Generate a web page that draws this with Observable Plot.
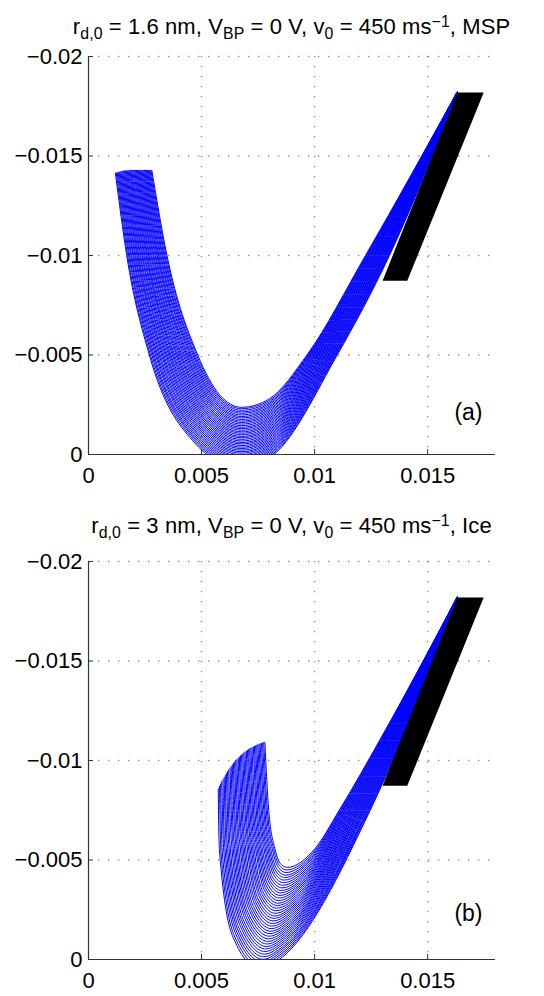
<!DOCTYPE html>
<html><head><meta charset="utf-8">
<script src="https://cdn.jsdelivr.net/npm/d3@7"></script>
<script src="https://cdn.jsdelivr.net/npm/@observablehq/plot@0.6"></script>
<style>
html,body{margin:0;padding:0;background:#fff;overflow:hidden}
#wrap{position:relative;width:544px;height:996px;font-family:"Liberation Sans",Arial,Helvetica,sans-serif}
.ttl{position:absolute;white-space:nowrap;font-size:22px;line-height:22px;letter-spacing:0.1px;transform:translateX(-50%);color:#000}
.ttl sub{font-size:0.72em;position:relative;top:0.33em;vertical-align:baseline;line-height:0}
.ttl sup{font-size:0.72em;position:relative;top:-0.42em;vertical-align:baseline;line-height:0}
.panel{position:absolute;left:0}
</style></head>
<body><div id="wrap"></div>
<script>
// ---------- axes ----------
const xTicks = [0, 0.005, 0.01, 0.015];
const yTicks = [-0.02, -0.015, -0.01, -0.005, 0];
const xGrid = [0.005, 0.01, 0.015];
const yGrid = [-0.02, -0.015, -0.01, -0.005];
const xDomain = [0, 0.018];
const yDomain = [-0.02, 0];
const curveEnd = [0.0163, -0.0182];

// ---------- black region (same in both panels) ----------
const blackY  = [-0.0087, -0.01817];
const blackX1 = [0.01303, 0.01634];
const blackX2 = [0.01412, 0.01750];

// ---------- panel (a): trajectory key points, outer curve first ----------
const aDescLevels = [-0.01, -0.005];
const aAscLevels  = [-0.005, -0.01];
const aStartX = [0.00119,0.00123,0.00127,0.00131,0.00135,0.00139,0.00143,0.00147,0.00151,0.00155,0.00159,0.00163,0.00167,0.00171,0.00175,0.00179,0.00183,0.00187,0.00191,0.00195,0.00200,0.00204,0.00208,0.00212,0.00216,0.00220,0.00224,0.00228,0.00232,0.00236,0.00240,0.00244,0.00248,0.00252,0.00256,0.00260,0.00264,0.00268,0.00272,0.00276,0.00280];
const aStartY = [-0.01413,-0.01415,-0.01416,-0.01418,-0.01419,-0.01420,-0.01421,-0.01422,-0.01423,-0.01424,-0.01425,-0.01425,-0.01426,-0.01426,-0.01427,-0.01427,-0.01428,-0.01428,-0.01428,-0.01428,-0.01428,-0.01428,-0.01428,-0.01428,-0.01428,-0.01428,-0.01428,-0.01428,-0.01428,-0.01428,-0.01428,-0.01428,-0.01428,-0.01428,-0.01428,-0.01428,-0.01428,-0.01428,-0.01428,-0.01428,-0.01428];
const aDescX1 = [0.00169,0.00173,0.00178,0.00182,0.00187,0.00191,0.00196,0.00200,0.00205,0.00209,0.00214,0.00218,0.00222,0.00227,0.00231,0.00236,0.00240,0.00245,0.00249,0.00254,0.00258,0.00262,0.00267,0.00271,0.00276,0.00280,0.00285,0.00289,0.00294,0.00298,0.00303,0.00307,0.00311,0.00316,0.00320,0.00325,0.00329,0.00334,0.00338,0.00343,0.00347];
const aDescX2 = [0.00269,0.00274,0.00280,0.00285,0.00290,0.00296,0.00301,0.00306,0.00312,0.00317,0.00323,0.00328,0.00333,0.00339,0.00344,0.00349,0.00355,0.00360,0.00365,0.00371,0.00376,0.00381,0.00387,0.00392,0.00397,0.00403,0.00408,0.00413,0.00419,0.00424,0.00430,0.00435,0.00440,0.00446,0.00451,0.00456,0.00462,0.00467,0.00472,0.00478,0.00483];
const aKneeX = [0.00460,0.00463,0.00466,0.00469,0.00472,0.00475,0.00478,0.00481,0.00484,0.00487,0.00490,0.00493,0.00496,0.00499,0.00502,0.00505,0.00508,0.00511,0.00514,0.00517,0.00520,0.00523,0.00526,0.00529,0.00532,0.00535,0.00538,0.00541,0.00544,0.00547,0.00550,0.00553,0.00556,0.00559,0.00562,0.00565,0.00568,0.00571,0.00574,0.00577,0.00580];
const aKneeY = [-0.00070,-0.00076,-0.00082,-0.00087,-0.00093,-0.00099,-0.00105,-0.00110,-0.00116,-0.00122,-0.00128,-0.00133,-0.00139,-0.00145,-0.00151,-0.00156,-0.00162,-0.00168,-0.00174,-0.00179,-0.00185,-0.00191,-0.00197,-0.00202,-0.00208,-0.00214,-0.00220,-0.00225,-0.00231,-0.00237,-0.00243,-0.00248,-0.00254,-0.00260,-0.00266,-0.00271,-0.00277,-0.00283,-0.00289,-0.00294,-0.00300];
const aMinX = [0.00676,0.00676,0.00676,0.00677,0.00677,0.00677,0.00677,0.00678,0.00678,0.00678,0.00678,0.00678,0.00678,0.00678,0.00678,0.00678,0.00678,0.00678,0.00678,0.00678,0.00678,0.00678,0.00678,0.00678,0.00678,0.00678,0.00678,0.00678,0.00678,0.00678,0.00678,0.00678,0.00678,0.00678,0.00677,0.00677,0.00677,0.00677,0.00676,0.00676,0.00676];
const aMinY = [0.00070,0.00062,0.00055,0.00047,0.00039,0.00032,0.00024,0.00016,0.00009,0.00001,-0.00007,-0.00014,-0.00022,-0.00030,-0.00037,-0.00045,-0.00053,-0.00060,-0.00068,-0.00076,-0.00084,-0.00091,-0.00099,-0.00107,-0.00114,-0.00122,-0.00130,-0.00137,-0.00145,-0.00153,-0.00161,-0.00168,-0.00176,-0.00184,-0.00191,-0.00199,-0.00207,-0.00214,-0.00222,-0.00230,-0.00237];
const aRiseX = [0.00820,0.00820,0.00819,0.00819,0.00818,0.00818,0.00817,0.00817,0.00816,0.00816,0.00815,0.00815,0.00814,0.00814,0.00813,0.00813,0.00812,0.00812,0.00811,0.00811,0.00810,0.00810,0.00809,0.00809,0.00808,0.00808,0.00807,0.00807,0.00806,0.00806,0.00805,0.00805,0.00804,0.00804,0.00803,0.00803,0.00802,0.00802,0.00801,0.00801,0.00800];
const aRiseY = [0.00000,-0.00007,-0.00014,-0.00021,-0.00028,-0.00035,-0.00042,-0.00049,-0.00056,-0.00063,-0.00070,-0.00077,-0.00084,-0.00091,-0.00098,-0.00105,-0.00112,-0.00119,-0.00126,-0.00133,-0.00140,-0.00147,-0.00154,-0.00161,-0.00168,-0.00175,-0.00182,-0.00189,-0.00196,-0.00203,-0.00210,-0.00217,-0.00224,-0.00231,-0.00238,-0.00245,-0.00252,-0.00259,-0.00266,-0.00273,-0.00280];
const aAscX1 = [0.01100,0.01097,0.01093,0.01090,0.01087,0.01083,0.01080,0.01077,0.01073,0.01070,0.01067,0.01063,0.01060,0.01057,0.01053,0.01050,0.01047,0.01043,0.01040,0.01037,0.01033,0.01030,0.01027,0.01023,0.01020,0.01016,0.01013,0.01010,0.01006,0.01003,0.01000,0.00996,0.00993,0.00990,0.00986,0.00983,0.00980,0.00976,0.00973,0.00970,0.00966];
const aAscX2 = [0.01331,0.01328,0.01326,0.01323,0.01320,0.01318,0.01315,0.01312,0.01310,0.01307,0.01304,0.01302,0.01299,0.01297,0.01294,0.01291,0.01289,0.01286,0.01283,0.01281,0.01278,0.01275,0.01273,0.01270,0.01267,0.01265,0.01262,0.01260,0.01257,0.01254,0.01252,0.01249,0.01246,0.01244,0.01241,0.01238,0.01236,0.01233,0.01230,0.01228,0.01225];

// ---------- panel (b) ----------
const bDescLevels = [-0.0075, -0.0055];
const bAscLevels  = [-0.0075, -0.011];
const bStartX = [0.00574,0.00579,0.00584,0.00589,0.00595,0.00600,0.00605,0.00610,0.00615,0.00620,0.00626,0.00631,0.00636,0.00641,0.00646,0.00651,0.00656,0.00662,0.00667,0.00672,0.00677,0.00682,0.00687,0.00692,0.00698,0.00703,0.00708,0.00713,0.00718,0.00723,0.00729,0.00734,0.00739,0.00744,0.00749,0.00754,0.00759,0.00765,0.00770,0.00775,0.00780];
const bStartY = [-0.00857,-0.00870,-0.00882,-0.00894,-0.00905,-0.00915,-0.00925,-0.00935,-0.00945,-0.00954,-0.00962,-0.00970,-0.00978,-0.00986,-0.00993,-0.01000,-0.01006,-0.01012,-0.01018,-0.01023,-0.01028,-0.01033,-0.01038,-0.01043,-0.01047,-0.01051,-0.01055,-0.01059,-0.01062,-0.01065,-0.01068,-0.01071,-0.01074,-0.01077,-0.01079,-0.01082,-0.01084,-0.01086,-0.01088,-0.01090,-0.01092];
const bDescX1 = [0.00575,0.00581,0.00586,0.00592,0.00597,0.00603,0.00608,0.00614,0.00619,0.00625,0.00631,0.00636,0.00642,0.00647,0.00653,0.00658,0.00664,0.00669,0.00675,0.00680,0.00686,0.00692,0.00697,0.00703,0.00708,0.00714,0.00719,0.00725,0.00730,0.00736,0.00742,0.00747,0.00753,0.00758,0.00764,0.00769,0.00775,0.00780,0.00786,0.00791,0.00797];
const bDescX2 = [0.00579,0.00585,0.00591,0.00598,0.00604,0.00610,0.00616,0.00622,0.00628,0.00635,0.00641,0.00647,0.00653,0.00659,0.00665,0.00672,0.00678,0.00684,0.00690,0.00696,0.00703,0.00709,0.00715,0.00721,0.00727,0.00733,0.00740,0.00746,0.00752,0.00758,0.00764,0.00770,0.00777,0.00783,0.00789,0.00795,0.00801,0.00807,0.00814,0.00820,0.00826];
const bKneeX = [0.00640,0.00645,0.00651,0.00656,0.00661,0.00666,0.00672,0.00677,0.00682,0.00687,0.00693,0.00698,0.00703,0.00708,0.00714,0.00719,0.00724,0.00729,0.00735,0.00740,0.00745,0.00750,0.00756,0.00761,0.00766,0.00771,0.00777,0.00782,0.00787,0.00792,0.00798,0.00803,0.00808,0.00813,0.00819,0.00824,0.00829,0.00834,0.00840,0.00845,0.00850];
const bKneeY = [-0.00110,-0.00119,-0.00129,-0.00138,-0.00147,-0.00156,-0.00166,-0.00175,-0.00184,-0.00193,-0.00203,-0.00212,-0.00221,-0.00230,-0.00240,-0.00249,-0.00258,-0.00267,-0.00277,-0.00286,-0.00295,-0.00304,-0.00314,-0.00323,-0.00332,-0.00341,-0.00351,-0.00360,-0.00369,-0.00378,-0.00388,-0.00397,-0.00406,-0.00415,-0.00425,-0.00434,-0.00443,-0.00452,-0.00462,-0.00471,-0.00480];
const bMinX = [0.00760,0.00763,0.00766,0.00769,0.00772,0.00775,0.00778,0.00781,0.00784,0.00787,0.00790,0.00793,0.00796,0.00799,0.00802,0.00805,0.00808,0.00811,0.00814,0.00817,0.00820,0.00823,0.00826,0.00829,0.00832,0.00835,0.00838,0.00841,0.00844,0.00847,0.00850,0.00853,0.00856,0.00859,0.00862,0.00865,0.00868,0.00871,0.00874,0.00877,0.00880];
const bMinY = [0.00050,0.00037,0.00024,0.00012,-0.00001,-0.00014,-0.00027,-0.00040,-0.00053,-0.00065,-0.00078,-0.00091,-0.00104,-0.00117,-0.00130,-0.00142,-0.00155,-0.00168,-0.00181,-0.00194,-0.00207,-0.00219,-0.00232,-0.00245,-0.00258,-0.00271,-0.00283,-0.00296,-0.00309,-0.00322,-0.00335,-0.00347,-0.00360,-0.00373,-0.00386,-0.00399,-0.00412,-0.00424,-0.00437,-0.00450,-0.00463];
const bRiseX = [0.00844,0.00848,0.00852,0.00856,0.00860,0.00864,0.00867,0.00871,0.00875,0.00879,0.00883,0.00887,0.00891,0.00895,0.00899,0.00903,0.00906,0.00910,0.00914,0.00918,0.00922,0.00926,0.00930,0.00934,0.00938,0.00942,0.00945,0.00949,0.00953,0.00957,0.00961,0.00965,0.00969,0.00973,0.00977,0.00981,0.00984,0.00988,0.00992,0.00996,0.01000];
const bRiseY = [0.00000,-0.00014,-0.00028,-0.00042,-0.00056,-0.00069,-0.00083,-0.00097,-0.00111,-0.00125,-0.00139,-0.00153,-0.00167,-0.00180,-0.00194,-0.00208,-0.00222,-0.00236,-0.00250,-0.00264,-0.00278,-0.00291,-0.00305,-0.00319,-0.00333,-0.00347,-0.00361,-0.00375,-0.00389,-0.00402,-0.00416,-0.00430,-0.00444,-0.00458,-0.00472,-0.00486,-0.00500,-0.00513,-0.00527,-0.00541,-0.00555];
const bAscX1 = [0.01246,0.01243,0.01239,0.01236,0.01233,0.01229,0.01225,0.01222,0.01219,0.01215,0.01212,0.01208,0.01205,0.01201,0.01198,0.01195,0.01191,0.01188,0.01184,0.01181,0.01178,0.01174,0.01171,0.01167,0.01164,0.01160,0.01157,0.01153,0.01150,0.01147,0.01143,0.01140,0.01136,0.01133,0.01129,0.01126,0.01123,0.01119,0.01116,0.01112,0.01109];
const bAscX2 = [0.01383,0.01381,0.01378,0.01376,0.01373,0.01371,0.01369,0.01366,0.01364,0.01361,0.01359,0.01357,0.01354,0.01352,0.01349,0.01347,0.01345,0.01342,0.01340,0.01337,0.01335,0.01333,0.01330,0.01328,0.01325,0.01323,0.01321,0.01318,0.01316,0.01313,0.01311,0.01309,0.01306,0.01304,0.01301,0.01299,0.01297,0.01294,0.01292,0.01289,0.01287];

const panelA = {tag:"(a)", startX:aStartX, startY:aStartY, descLevels:aDescLevels, descX1:aDescX1, descX2:aDescX2, kneeX:aKneeX, kneeY:aKneeY, minX:aMinX, minY:aMinY, riseX:aRiseX, riseY:aRiseY, ascLevels:aAscLevels, ascX1:aAscX1, ascX2:aAscX2};
const panelB = {tag:"(b)", startX:bStartX, startY:bStartY, descLevels:bDescLevels, descX1:bDescX1, descX2:bDescX2, kneeX:bKneeX, kneeY:bKneeY, minX:bMinX, minY:bMinY, riseX:bRiseX, riseY:bRiseY, ascLevels:bAscLevels, ascX1:bAscX1, ascX2:bAscX2};

function buildCurves(P) {
  const rows = [];
  P.startX.forEach((_, i) => {
    const pts = [
      [P.startX[i], P.startY[i]],
      [P.descX1[i], P.descLevels[0]],
      [P.descX2[i], P.descLevels[1]],
      [P.kneeX[i], P.kneeY[i]],
      [P.minX[i], P.minY[i]],
      [P.riseX[i], P.riseY[i]],
      [P.ascX1[i], P.ascLevels[0]],
      [P.ascX2[i], P.ascLevels[1]],
      curveEnd
    ];
    pts.forEach(([x, y]) => rows.push({id: i, x, y}));
  });
  return rows;
}
const blackRows = blackY.map((y, i) => ({y, x1: blackX1[i], x2: blackX2[i]}));

const fmtY = d => d === 0 ? "0" : "\u2212" + Math.abs(d);
const fmtX = d => String(d);
const axisColor = "#333";

function panel(P, {height, marginTop, marginBottom, tagDy}) {
  const W = 544, ml = 88, mr = 49;
  const innerH = height - marginTop - marginBottom;
  const innerW = W - ml - mr;
  return Plot.plot({
    width: W, height, marginLeft: ml, marginRight: mr, marginTop, marginBottom,
    style: {fontSize: "22px", fontFamily: '"Liberation Sans", Arial, Helvetica, sans-serif', background: "transparent", overflow: "visible"},
    x: {domain: xDomain, ticks: xTicks, tickFormat: fmtX, tickSize: 0, tickPadding: 13, label: null},
    y: {domain: yDomain, reverse: true, ticks: yTicks, tickFormat: fmtY, tickSize: 0, tickPadding: 6, label: null},
    marks: [
      Plot.ruleX(xGrid, {x: d => d, stroke: "#8a8a8a", strokeWidth: 1.3, strokeDasharray: "1.3 8.7"}),
      Plot.ruleY(yGrid, {y: d => d, stroke: "#8a8a8a", strokeWidth: 1.3, strokeDasharray: "1.3 8.7"}),
      Plot.line(buildCurves(P), {x: "x", y: "y", z: "id", stroke: "#0000ff", strokeWidth: 1.0, curve: "monotone-x", clip: true}),
      Plot.areaX(blackRows, {y: "y", x1: "x1", x2: "x2", fill: "#000", clip: true}),
      Plot.ruleX([xDomain[0]], {x: d => d, stroke: axisColor, strokeWidth: 1.2}),
      Plot.ruleY([yDomain[1]], {y: d => d, stroke: axisColor, strokeWidth: 1.2}),
      Plot.tickX(xGrid, {x: d => d, stroke: axisColor, insetTop: innerH - 5}),
      Plot.tickY(yGrid, {y: d => d, stroke: axisColor, insetRight: innerW - 5}),
      Plot.text([P.tag], {text: d => d, frameAnchor: "bottom-right", textAnchor: "end", lineAnchor: "middle", dx: -13, dy: tagDy, fontSize: 23, fill: "#000"})
    ]
  });
}

const wrap = document.getElementById("wrap");
function addTitle(html, top) {
  const d = document.createElement("div");
  d.className = "ttl";
  d.style.left = "291.5px";
  d.style.top = top + "px";
  d.innerHTML = html;
  wrap.appendChild(d);
}
const p1 = panel(panelA, {height: 498, marginTop: 56, marginBottom: 44, tagDy: -42});
p1.classList.add("panel"); p1.style.top = "0px";
wrap.appendChild(p1);
const p2 = panel(panelB, {height: 498, marginTop: 63, marginBottom: 37, tagDy: -46});
p2.classList.add("panel"); p2.style.top = "498px";
wrap.appendChild(p2);
addTitle('r<sub>d,0</sub> = 1.6 nm, V<sub>BP</sub> = 0 V, v<sub>0</sub> = 450 ms<sup>\u22121</sup>, MSP', 16);
addTitle('r<sub>d,0</sub> = 3 nm, V<sub>BP</sub> = 0 V, v<sub>0</sub> = 450 ms<sup>\u22121</sup>, Ice', 515);
</script>
</body></html>
